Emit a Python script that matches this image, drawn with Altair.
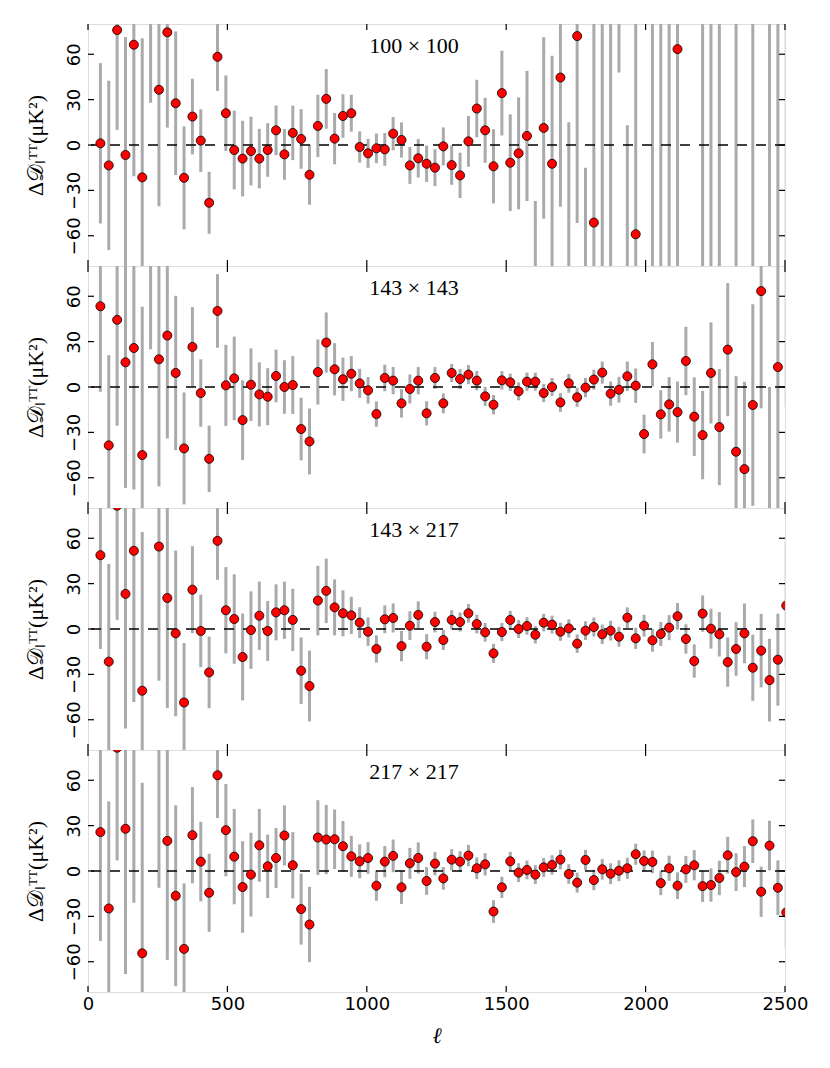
import altair as alt
import pandas as pd

ell = [44.5, 74.5, 104.5, 134.5, 164.5, 194.5, 224.5, 254.5, 284.5, 314.5,
       344.5, 374.5, 404.5, 434.5, 464.5, 494.5, 524.5, 554.5, 584.5, 614.5,
       644.5, 674.5, 704.5, 734.5, 764.5, 794.5, 824.5, 854.5, 884.5, 914.5,
       944.5, 974.5, 1004.5, 1034.5, 1064.5, 1094.5, 1124.5, 1154.5, 1184.5, 1214.5,
       1244.5, 1274.5, 1304.5, 1334.5, 1364.5, 1394.5, 1424.5, 1454.5, 1484.5, 1514.5,
       1544.5, 1574.5, 1604.5, 1634.5, 1664.5, 1694.5, 1724.5, 1754.5, 1784.5, 1814.5,
       1844.5, 1874.5, 1904.5, 1934.5, 1964.5, 1994.5, 2024.5, 2054.5, 2084.5, 2114.5,
       2144.5, 2174.5, 2204.5, 2234.5, 2264.5, 2294.5, 2324.5, 2354.5, 2384.5, 2414.5,
       2444.5, 2474.5, 2504.5]

labels = ["100 \u00d7 100", "143 \u00d7 143", "143 \u00d7 217", "217 \u00d7 217"]

v100 = [1.1, -13.5, 76, -6.6, 66.3, -21.4, 120, 36.5, 74.5, 27.6,
        -21.7, 18.8, 2.9, -38.2, 58.3, 21, -3.3, -9, -4, -9,
        -3.3, 9.7, -6.2, 8, 4, -19.7, 12.6, 30.5, 4.2, 19.2,
        21, -1.3, -5.5, -2.2, -2.9, 7.5, 3.3, -13.5, -8.8, -12.4,
        -15, -0.9, -13.3, -20.1, 2.4, 24.1, 9.7, -14.1, 34.3, -11.7,
        -5.5, 6, -100, 11.3, -12.4, 44.6, -85, 72, -160, -51.3,
        95, -110, 230, -200, -59, 380, 130, -140, -120, 63.4,
        420, -450, 160, -100, 150, -520, 110, 600, -170, -650,
        120, -150, 190]
e100 = [53, 56, 66, 78, 87, 92, 92, 77, 63, 47.5,
        34, 25, 20.7, 20.5, 22.5, 25, 26, 25, 22.7, 19.7,
        17.7, 16.4, 16.8, 18, 19.7, 19.8, 20.6, 19.7, 17, 14.4,
        12.2, 10.3, 9.6, 9.8, 10.8, 11, 11.6, 12.2, 12.7, 12,
        12.2, 12.5, 13, 15, 16.8, 19, 21.5, 24.5, 28, 32,
        37, 43, 63, 60, 71.4, 85.5, 100, 123.5, 145, 150,
        190, 210, 182, 213, 230, 250, 260, 270, 280, 290,
        300, 310, 330, 340, 350, 370, 380, 400, 410, 430,
        440, 460, 480]

v143 = [53.4, -38.6, 44.4, 16.3, 25.8, -45, 120, 18.3, 34, 9.3,
        -40.6, 26.5, -4, -47.5, 50.3, 1.1, 5.7, -21.9, 1.5, -4.9,
        -6.4, 7.3, 0, 1.3, -27.8, -36, 9.9, 29.4, 11.7, 5.1,
        8.8, 2.4, -2.2, -17.9, 6, 4.2, -10.8, -1.3, 4.2, -17.4,
        6, -10.8, 9.3, 5.3, 8.2, 4.2, -6.2, -11.7, 4.4, 3.1,
        -2.9, 3.5, 3.5, -4, 0, -10.2, 2.4, -6.8, -0.4, 4.9,
        9.5, -4.4, -1.8, 7.1, 0.9, -31.1, 15, -18.1, -11.5, -16.6,
        17.2, -19.6, -31.8, 9.3, -26.5, 24.7, -42.8, -54.3, -11.9, 63.4,
        -90, 13.2, 130]
e143 = [56.5, 59.6, 70, 83, 93.6, 98, 95, 84, 68, 51,
        37, 26.3, 22.3, 22, 24.3, 26.8, 27.6, 26.3, 24, 21.2,
        18.8, 17.4, 17.7, 19.1, 20.7, 21.8, 21.5, 19.9, 17.3, 14.3,
        11.6, 9.6, 8.8, 8.4, 8.8, 9, 9.4, 9.6, 9, 8,
        7.2, 6.6, 6, 6.6, 6.3, 6.4, 6.3, 6.4, 6.1, 5.7,
        5.9, 6, 6, 6, 6, 6.2, 6.2, 6.3, 6.4, 6.6,
        7.3, 8, 8.5, 9.7, 11.4, 12.8, 14.7, 16, 18, 20.2,
        22.6, 26, 29.2, 33.4, 38.4, 44, 50, 57.8, 66.6, 77.5,
        90, 105, 143]

v143x217 = [48.8, -21.6, 81.5, 23.2, 51.7, -40.8, 200, 54.5, 20.5, -2.9,
            -48.6, 26, -1.3, -28.7, 58.3, 12.4, 6.6, -18.5, -0.7, 8.8,
            -1.3, 11, 12.4, 6, -27.6, -37.7, 18.8, 25.2, 14.3, 10.4,
            9, 4.2, -1.8, -13.2, 6.4, 7.3, -11.3, 2.2, 9.3, -11.7,
            4.6, -7.3, 6, 4.6, 10.4, 3.3, -2.2, -16.1, -2, 6,
            0, 2, -3.8, 4.2, 2.9, -1.8, 0.4, -9.7, -1.1, 1.3,
            -3.5, -1.1, -5.1, 7.5, -6.2, 2.2, -7.5, -3.3, 0.9, 8.4,
            -6.6, -21.2, 10.2, 0.2, -3.5, -21.9, -13.2, -2.9, -25.6, -14.3,
            -33.8, -20.3, 15.5]
e143x217 = [62, 64.6, 75.5, 89, 100, 105, 105, 88.7, 72.8, 54.8,
            39.3, 28.7, 24, 23.7, 25.8, 28.5, 29.6, 28.7, 25.6, 22.6,
            19.8, 18.5, 18.9, 20.6, 22, 23.4, 23, 21.3, 18.5, 15.2,
            12.3, 10.2, 9.4, 9, 9.2, 9.6, 10, 9.5, 9, 8.3,
            6.8, 6.6, 6.4, 6.3, 6.2, 6.2, 6.2, 6.3, 6, 6,
            5.9, 5.8, 5.8, 5.8, 5.9, 6, 6, 6.1, 6.2, 6.3,
            6.4, 6.5, 6.6, 6.8, 7, 7.2, 7.5, 7.9, 8.3, 8.8,
            9.7, 11, 12, 13.2, 14.7, 16.3, 17.7, 19.8, 21.9, 24.3,
            27.3, 30.4, 42]

v217 = [25.7, -24.8, 81.5, 27.9, 85, -54.4, 230, 95, 19.9, -16.4,
        -51.5, 23.7, 6.2, -14.4, 63.3, 27, 9.5, -10.6, -2.4, 17,
        3.1, 8.6, 23.5, 3.8, -25.2, -35.4, 22.1, 20.8, 21, 16.4,
        9.7, 6.4, 8.6, -9.7, 6.2, 10, -10.8, 5.1, 8.6, -6.6,
        4.9, -4.9, 7.5, 6.2, 10.2, 1.8, 4.4, -26.8, -10.8, 6.4,
        -1.1, 0.7, -2.4, 2.4, 4, 7.5, -2, -7.7, 7.3, -6,
        1.1, -1.8, 0.2, 1.8, 11.1, 6.6, 6, -8, 1.8, -9.7,
        1.1, 3.8, -10, -9.3, -4.6, 10.4, -0.7, 2.9, 19.7, -13.7,
        16.8, -11.1, -27.4]
e217 = [72, 70.8, 74.5, 96, 106, 112.8, 115, 106, 78.7, 59.8,
        43.3, 31.8, 26.3, 25.8, 28.3, 30.5, 31.5, 30.3, 27.7, 24.1,
        21, 19.9, 19.9, 21.9, 23.5, 24.9, 24.7, 22.9, 19.7, 16.7,
        13.6, 11.2, 10.5, 10, 10.3, 10.8, 11, 10.2, 10.3, 9.2,
        7.7, 7.5, 7, 6.9, 7.1, 7.2, 7.4, 7.5, 7, 6.3,
        6.2, 6.2, 6.2, 6.3, 6.4, 6.5, 6.5, 6.6, 6.7, 6.7,
        6.8, 6.9, 6.9, 7, 7, 7, 7.5, 8, 8.3, 8.8,
        8.9, 10, 10.4, 11, 11.4, 12.2, 12.5, 13.6, 14.4, 16.6,
        16.4, 18.1, 23.8]

x_ticks = [0, 500, 1000, 1500, 2000, 2500]
y_ticks = [-60, -30, 0, 30, 60]

W = 697
H = 242
TICK = 6

series = [(v100, e100), (v143, e143), (v143x217, e143x217), (v217, e217)]

ytitle = "\u0394\U0001D49F\u2097\u1D40\u1D40(\u03bcK\u00b2)"

yaxis = alt.Axis(values=y_ticks, labelAngle=270, labelAlign="center", labelBaseline="bottom",
                 labelFont="DejaVu Sans", labelFontSize=18, labelColor="black", labelPadding=5,
                 tickSize=0, domain=False, grid=False, title=ytitle,
                 titleFont="Liberation Serif", titleFontSize=22, titleFontWeight="normal",
                 titleColor="black", titlePadding=18)

panels = []
for i, (vals, errs) in enumerate(series):
    df = pd.DataFrame({
        "ell": ell,
        "v": vals,
        "lo": [a - b for a, b in zip(vals, errs)],
        "hi": [a + b for a, b in zip(vals, errs)],
    })
    last = i == len(series) - 1
    if last:
        xaxis = alt.Axis(values=x_ticks, format="d", labelFont="DejaVu Sans", labelFontSize=18,
                         labelColor="black", labelPadding=3, tickSize=0, domain=False, grid=False,
                         title="\u2113", titleFont="Liberation Serif", titleFontStyle="italic",
                         titleFontSize=22, titleFontWeight="normal", titleColor="black",
                         titlePadding=12, labelFlush=False)
    else:
        xaxis = None
    xs = alt.Scale(domain=[0, 2500], nice=False, zero=False)
    ys = alt.Scale(domain=[-80, 80], nice=False, zero=False)

    base = alt.Chart(df)
    bars = base.mark_rule(color="#aaaaaa", strokeWidth=3, clip=True).encode(
        x=alt.X("ell:Q", scale=xs, axis=xaxis),
        y=alt.Y("lo:Q", scale=ys, axis=yaxis),
        y2="hi:Q",
    )
    zero = alt.Chart(pd.DataFrame({"z": [0]})).mark_rule(
        color="black", strokeWidth=1.5, strokeDash=[10, 9]).encode(
        y=alt.Y("z:Q", scale=ys, axis=yaxis))
    pts = base.mark_circle(color="#ff0000", stroke="black", strokeWidth=0.8, size=82,
                           opacity=1, clip=True).encode(
        x=alt.X("ell:Q", scale=xs, axis=xaxis),
        y=alt.Y("v:Q", scale=ys, axis=yaxis),
    )
    txt = alt.Chart(pd.DataFrame({"t": [labels[i]]})).mark_text(
        font="Liberation Serif", fontSize=22, align="center", baseline="middle", color="black"
    ).encode(text="t:N", x=alt.value(326), y=alt.value(22.4))

    xt = alt.Chart(pd.DataFrame({"xt": x_ticks}))
    tick_top = xt.mark_rule(color="black", strokeWidth=1.2).encode(
        x=alt.X("xt:Q", scale=xs, axis=xaxis), y=alt.value(0), y2=alt.value(TICK))
    tick_bot = xt.mark_rule(color="black", strokeWidth=1.2).encode(
        x=alt.X("xt:Q", scale=xs, axis=xaxis), y=alt.value(H), y2=alt.value(H - TICK))
    yt = alt.Chart(pd.DataFrame({"yt": y_ticks}))
    tick_l = yt.mark_rule(color="black", strokeWidth=1.2).encode(
        y=alt.Y("yt:Q", scale=ys, axis=yaxis), x=alt.value(0), x2=alt.value(TICK))
    tick_r = yt.mark_rule(color="black", strokeWidth=1.2).encode(
        y=alt.Y("yt:Q", scale=ys, axis=yaxis), x=alt.value(W), x2=alt.value(W - TICK))

    panel = alt.layer(bars, zero, pts, txt, tick_top, tick_bot, tick_l, tick_r).properties(
        width=W, height=H)
    panels.append(panel)

chart = alt.vconcat(*panels, spacing=0, bounds="flush").properties(
    padding={"left": 15, "top": 14, "right": 10, "bottom": 5}
).configure_view(stroke="black", strokeWidth=1.4).configure(background="white")

chart.save("out.html", embed_options={"renderer": "svg", "actions": False})
